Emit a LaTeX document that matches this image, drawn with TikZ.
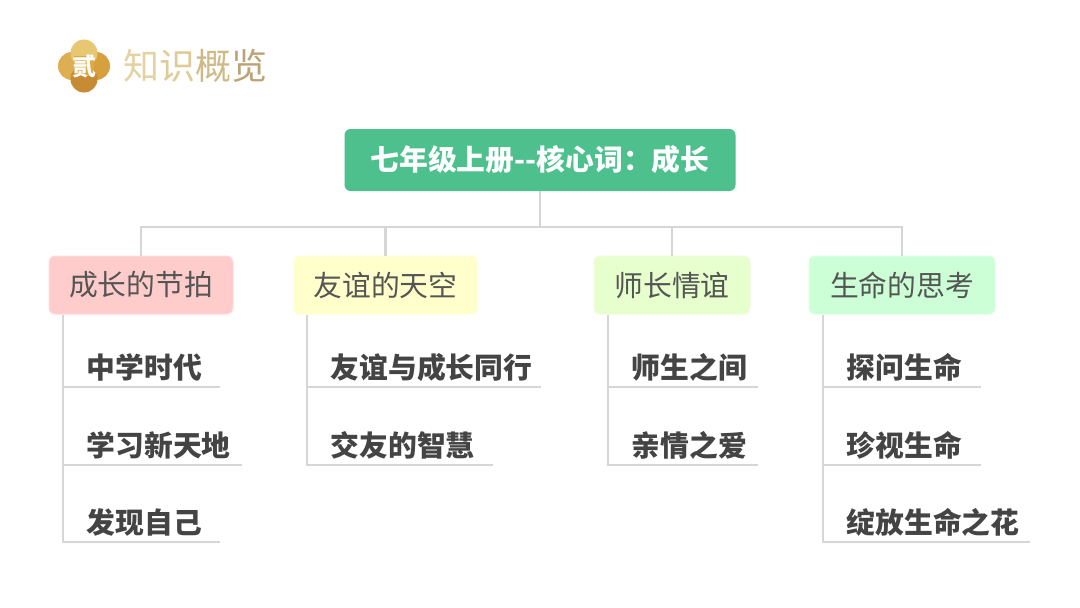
\documentclass[tikz,border=0pt]{standalone}
\usepackage{fontspec}
\setmainfont{Noto Sans CJK SC}
\definecolor{linegray}{HTML}{D6D6D6}
\definecolor{textgray}{HTML}{555555}
\definecolor{itemgray}{HTML}{444444}
\definecolor{rootgreen}{HTML}{4DC08D}
\definecolor{goldleft}{HTML}{DDAE52}
\definecolor{goldright}{HTML}{D6A03E}
\definecolor{goldtop}{HTML}{E8C772}
\definecolor{goldbottom}{HTML}{C78A35}
\definecolor{goldmid}{HTML}{DDAA4A}
\definecolor{catA}{HTML}{FFCCCC}
\definecolor{catB}{HTML}{FFFFCC}
\definecolor{catC}{HTML}{E6FFCC}
\definecolor{catD}{HTML}{CCFFD5}
\tikzset{
  rootbox/.style={fill=rootgreen,rounded corners=6pt,text=white,font=\fontsize{28.8}{32}\selectfont\bfseries,minimum width=391pt,minimum height=62pt,inner sep=0pt},
  cat/.style={fill=#1,draw=#1!70!white,line width=1pt,rounded corners=6pt,text=textgray,font=\fontsize{28.8}{32}\selectfont,minimum height=58pt,inner sep=0pt},
  leaf/.style={text width=#1,align=left,inner xsep=0pt,inner ysep=0pt,minimum height=39pt,anchor=south west,text=itemgray,font=\fontsize{28.8}{32}\selectfont\bfseries},
  conn/.style={draw=linegray,line width=2.4pt},
  subconn/.style={draw=linegray,line width=1.4pt},
}
\newcommand{\lf}[1]{\hspace*{23.5pt}#1}
\begin{document}
\begin{tikzpicture}[x=1pt,y=-1pt]
\useasboundingbox (0,0) rectangle (1080,608);
\fill[white] (0,0) rectangle (1080,608);
% logo
\fill[goldleft] (72,66) circle (14);
\fill[goldright] (96,66) circle (14);
\fill[goldtop] (84,53) circle (13.5);
\fill[goldbottom] (84,79) circle (13.5);
\fill[goldmid] (74,56) rectangle (94,76);
\node[text=white,font=\fontsize{24}{24}\selectfont\bfseries,inner sep=0pt] (logotext) at (84,66) {贰};
\node[inner sep=0pt,font=\fontsize{36}{38}\selectfont,anchor=west] (title) at (123,66) {\textcolor[HTML]{E4D2A2}{知}\textcolor[HTML]{DFCB98}{识}\textcolor[HTML]{CFB987}{概}\textcolor[HTML]{BBA376}{览}};
% root
\node[rootbox] (root) at (540,160) {七年级上册{-}{-}核心词：成长};
% categories
\node[cat=catA,minimum width=184pt] (A) at (141,285) {\raisebox{-1pt}{成长的节拍}};
\node[cat=catB,minimum width=184pt] (B) at (385.5,285) {\raisebox{-1pt}{友谊的天空}};
\node[cat=catC,minimum width=156pt] (C) at (672,285) {\raisebox{-1pt}{师长情谊}};
\node[cat=catD,minimum width=186pt] (D) at (902,285) {\raisebox{-1pt}{生命的思考}};
% bus
\coordinate (bus) at (540,227);
\draw[conn] (root.south) -- (bus);
\draw[conn] (A.north) |- (bus);
\draw[conn] (B.north) -- (B.north |- bus);
\draw[conn] (C.north) -- (C.north |- bus);
\draw[conn] (D.north) |- (bus);
% leaves A
\node[leaf=157pt] (a1) at (63,387) {\lf{中学时代}};
\node[leaf=179pt] (a2) at (63,465) {\lf{学习新天地}};
\node[leaf=157pt] (a3) at (63,542) {\lf{发现自己}};
% leaves B
\node[leaf=234pt] (b1) at (307,387) {\lf{友谊与成长同行}};
\node[leaf=186pt] (b2) at (307,465) {\lf{交友的智慧}};
% leaves C
\node[leaf=150pt] (c1) at (608,387) {\lf{师生之间}};
\node[leaf=150pt] (c2) at (608,465) {\lf{亲情之爱}};
% leaves D
\node[leaf=158pt] (d1) at (823,387) {\lf{探问生命}};
\node[leaf=158pt] (d2) at (823,465) {\lf{珍视生命}};
\node[leaf=207pt] (d3) at (823,542) {\lf{绽放生命之花}};
% trunks
\draw[subconn] (a3.south west |- A.south) -- (a3.south west) -- (a3.south east);
\draw[subconn] (b2.south west |- B.south) -- (b2.south west) -- (b2.south east);
\draw[subconn] (c2.south west |- C.south) -- (c2.south west) -- (c2.south east);
\draw[subconn] (d3.south west |- D.south) -- (d3.south west) -- (d3.south east);
\draw[subconn] (a1.south west) -- (a1.south east);
\draw[subconn] (a2.south west) -- (a2.south east);
\draw[subconn] (b1.south west) -- (b1.south east);
\draw[subconn] (c1.south west) -- (c1.south east);
\draw[subconn] (d1.south west) -- (d1.south east);
\draw[subconn] (d2.south west) -- (d2.south east);
\end{tikzpicture}
\end{document}
